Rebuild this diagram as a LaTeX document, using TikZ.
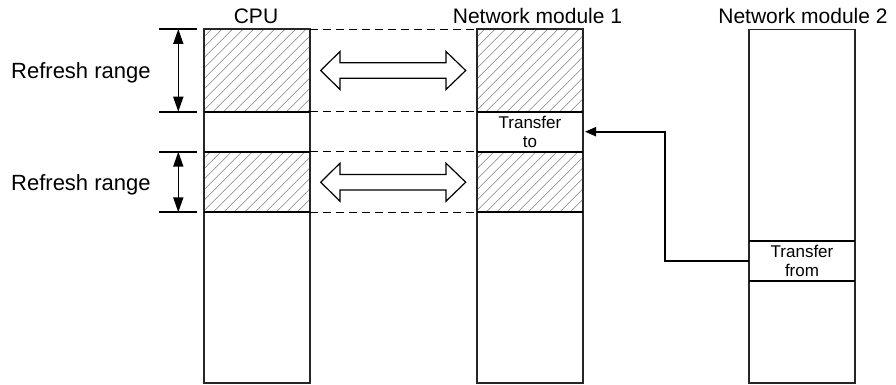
\documentclass[tikz,border=0pt]{standalone}
\usepackage{fontspec}
\setmainfont{Liberation Sans}
\usetikzlibrary{arrows.meta,calc}
\tikzset{
  cell/.style={draw=black!85, line width=1.1pt, minimum width=106pt, inner sep=0pt, outer sep=0pt, anchor=north west},
  hatched/.style={path picture={
      \foreach \k in {0,...,32}{
        \draw[black!50, line width=0.6pt]
          ($(path picture bounding box.south west)+(\k*10.5pt-180pt,0pt)$) -- ++(220pt,220pt);}}},
  sep/.style={line width=2pt, black},
  guide/.style={dash pattern=on 8pt off 5pt, line width=0.8pt, black},
  dimarrow/.style={line width=1.6pt, {Triangle[length=15pt,width=10pt]}-{Triangle[length=15pt,width=10pt]}},
  link/.style={line width=2pt, line join=miter, -{Triangle[length=11pt,width=9pt]}, shorten >=2pt},
  blockarrow/.style={draw=black, fill=white, line width=1.2pt, line join=miter},
  hdr/.style={font=\fontsize{21}{25}\selectfont, inner sep=0pt, anchor=base},
  lbl/.style={font=\fontsize{22}{26}\selectfont, inner sep=0pt, anchor=base west},
  celltext/.style={font=\fontsize{17}{18.6}\selectfont, align=center},
}
\begin{document}
\begin{tikzpicture}[x=1pt,y=-1pt]
\useasboundingbox (0,0) rectangle (896,385);

% CPU column
\node[cell,hatched,minimum height=82.7pt] (c1) at (204,29) {};
\node[cell,minimum height=40pt] (c2) at (c1.south west) {};
\node[cell,hatched,minimum height=60.6pt] (c3) at (c2.south west) {};
\node[cell,minimum height=170.7pt] (c4) at (c3.south west) {};

% Network module 1 column
\node[cell,hatched,minimum height=82.7pt] (n1a) at (477,29) {};
\node[cell,minimum height=40pt,celltext] (n1b) at (n1a.south west) {Transfer\\to};
\node[cell,hatched,minimum height=60.6pt] (n1c) at (n1b.south west) {};
\node[cell,minimum height=170.7pt] (n1d) at (n1c.south west) {};

% Network module 2 column
\node[cell,minimum height=211.5pt] (m1) at (749,29.5) {};
\node[cell,minimum height=40pt,celltext] (m2) at (m1.south west) {Transfer\\from};
\node[cell,minimum height=102pt] (m3) at (m2.south west) {};

% separators
\foreach \n in {c1,c2,c3,n1a,n1b,n1c,m1,m2}{
  \draw[sep] (\n.south west) -- (\n.south east);
}

% dashed guides
\draw[guide] (c1.north east) -- (n1a.north west);
\draw[guide] (c1.south east) -- (n1a.south west);
\draw[guide] (c2.south east) -- (n1b.south west);
\draw[guide] (c3.south east) -- (n1c.south west);

% headers
\node[hdr] (tcpu) at (256,23.3) {CPU};
\node[hdr] (tn1) at (537.5,23.3) {Network module 1};
\node[hdr] (tn2) at (803,23.3) {Network module 2};

% refresh range labels
\node[lbl] (r1) at (11,78.3) {Refresh range};
\node[lbl] (r2) at (11,190) {Refresh range};

% dimension lines
\coordinate (h1a) at (159,29);    \coordinate (h1b) at (197,29);
\coordinate (h2a) at (159,111.7); \coordinate (h2b) at (197,111.7);
\coordinate (h3a) at (159,151.7); \coordinate (h3b) at (197,151.7);
\coordinate (h4a) at (159,212.3); \coordinate (h4b) at (197,212.3);
\draw[sep] (h1a) -- (h1b);
\draw[sep] (h2a) -- (h2b);
\draw[sep] (h3a) -- (h3b);
\draw[sep] (h4a) -- (h4b);
\coordinate (v1) at (178.3,29);    \coordinate (v2) at (178.3,111.7);
\coordinate (v3) at (178.3,151.7); \coordinate (v4) at (178.3,212.3);
\draw[dimarrow] (v1) -- (v2);
\draw[dimarrow] (v3) -- (v4);

% block double arrows
\draw[blockarrow] (320.7,70.5) -- (340,51.5) -- (340,62.7) -- (446,62.7) -- (446,51.5)
  -- (465.7,70.5) -- (446,89.5) -- (446,78.3) -- (340,78.3) -- (340,89.5) -- cycle;
\draw[blockarrow] (320.7,182.2) -- (340,163.2) -- (340,174.4) -- (446,174.4) -- (446,163.2)
  -- (465.7,182.2) -- (446,201.2) -- (446,190) -- (340,190) -- (340,201.2) -- cycle;

% transfer connector
\coordinate (bend) at (665.3,261);
\draw[link] (m2.west) -- (bend) |- (n1b.east);
\end{tikzpicture}
\end{document}
